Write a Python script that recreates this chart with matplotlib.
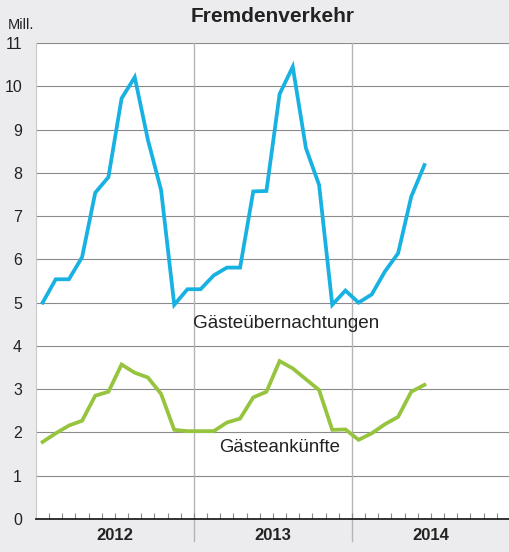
import matplotlib.pyplot as plt
import numpy as np

plt.rcParams['font.family'] = ['Liberation Sans', 'DejaVu Sans']

# Monatswerte Jan 2012 - Jun 2014, in Mill.
uebernachtungen = [5.00, 5.54, 5.54, 6.05, 7.54, 7.90, 9.72, 10.21, 8.76, 7.60, 4.95, 5.31,
                   5.31, 5.63, 5.81, 5.81, 7.57, 7.58, 9.82, 10.45, 8.57, 7.72, 4.95, 5.28,
                   5.00, 5.19, 5.72, 6.14, 7.45, 8.18]
ankuenfte = [1.78, 1.98, 2.16, 2.27, 2.85, 2.94, 3.57, 3.38, 3.27, 2.89, 2.06, 2.03,
             2.03, 2.03, 2.23, 2.32, 2.81, 2.94, 3.65, 3.48, 3.23, 2.98, 2.06, 2.07,
             1.83, 1.98, 2.19, 2.36, 2.94, 3.10]
jahre = ['2012', '2013', '2014']
y_ticks = list(range(0, 12))

bg = '#ececee'
blau = '#17b1e2'
gruen = '#97c43e'

fig = plt.figure(figsize=(5.1, 5.52), dpi=100, facecolor=bg)
ax = fig.add_axes([36 / 510, 33 / 552, 474 / 510, 476 / 552])
ax.set_facecolor('white')

x = np.arange(len(uebernachtungen)) + 0.5
ax.plot(x, uebernachtungen, color=blau, lw=2.7, solid_joinstyle='miter', zorder=3)
ax.plot(x, ankuenfte, color=gruen, lw=2.7, solid_joinstyle='miter', zorder=3)

ax.set_xlim(0, 36)
ax.set_ylim(0, 11)

# horizontale Gitterlinien
for v in y_ticks[1:]:
    ax.axhline(v, color='#8a8a8a', lw=0.8, zorder=1)

# Jahrestrenner, reichen bis in die Beschriftung
for xb in (12, 24):
    ax.plot([xb, xb], [-0.5, 11], color='#b5b5b5', lw=1.0, clip_on=False, zorder=1)

for s in ('top', 'right'):
    ax.spines[s].set_visible(False)
ax.spines['left'].set_color('#c8c8c8')
ax.spines['left'].set_linewidth(0.8)
ax.spines['bottom'].set_color('#222222')
ax.spines['bottom'].set_linewidth(1.3)
ax.spines['bottom'].set_zorder(4)

ax.set_yticks(y_ticks)
ax.set_yticklabels([str(v) for v in y_ticks], fontsize=11.5, color='#222222')
ax.tick_params(axis='y', length=0, pad=10)

ax.set_xticks(np.arange(1, 36), minor=True)
ax.set_xticks([])
ax.tick_params(axis='x', which='minor', direction='in', length=4, width=0.8, color='#888888')

for i, j in enumerate(jahre):
    ax.text(6 + 12 * i, -0.38, j, ha='center', va='center', fontsize=12,
            fontweight='bold', color='#222222')

ax.text(19.0, 4.52, 'Gästeübernachtungen', ha='center', va='center', fontsize=13.6, color='#222222')
ax.text(18.5, 1.66, 'Gästeankünfte', ha='center', va='center', fontsize=13.4, color='#222222')

fig.text(273 / 510, 1 - 17 / 552, 'Fremdenverkehr', ha='center', va='center',
         fontsize=15, fontweight='bold', color='#222222')
fig.text(8 / 510, 1 - 25 / 552, 'Mill.', ha='left', va='center', fontsize=10.5, color='#222222')

fig.savefig('out.png', dpi=100, facecolor=bg)
